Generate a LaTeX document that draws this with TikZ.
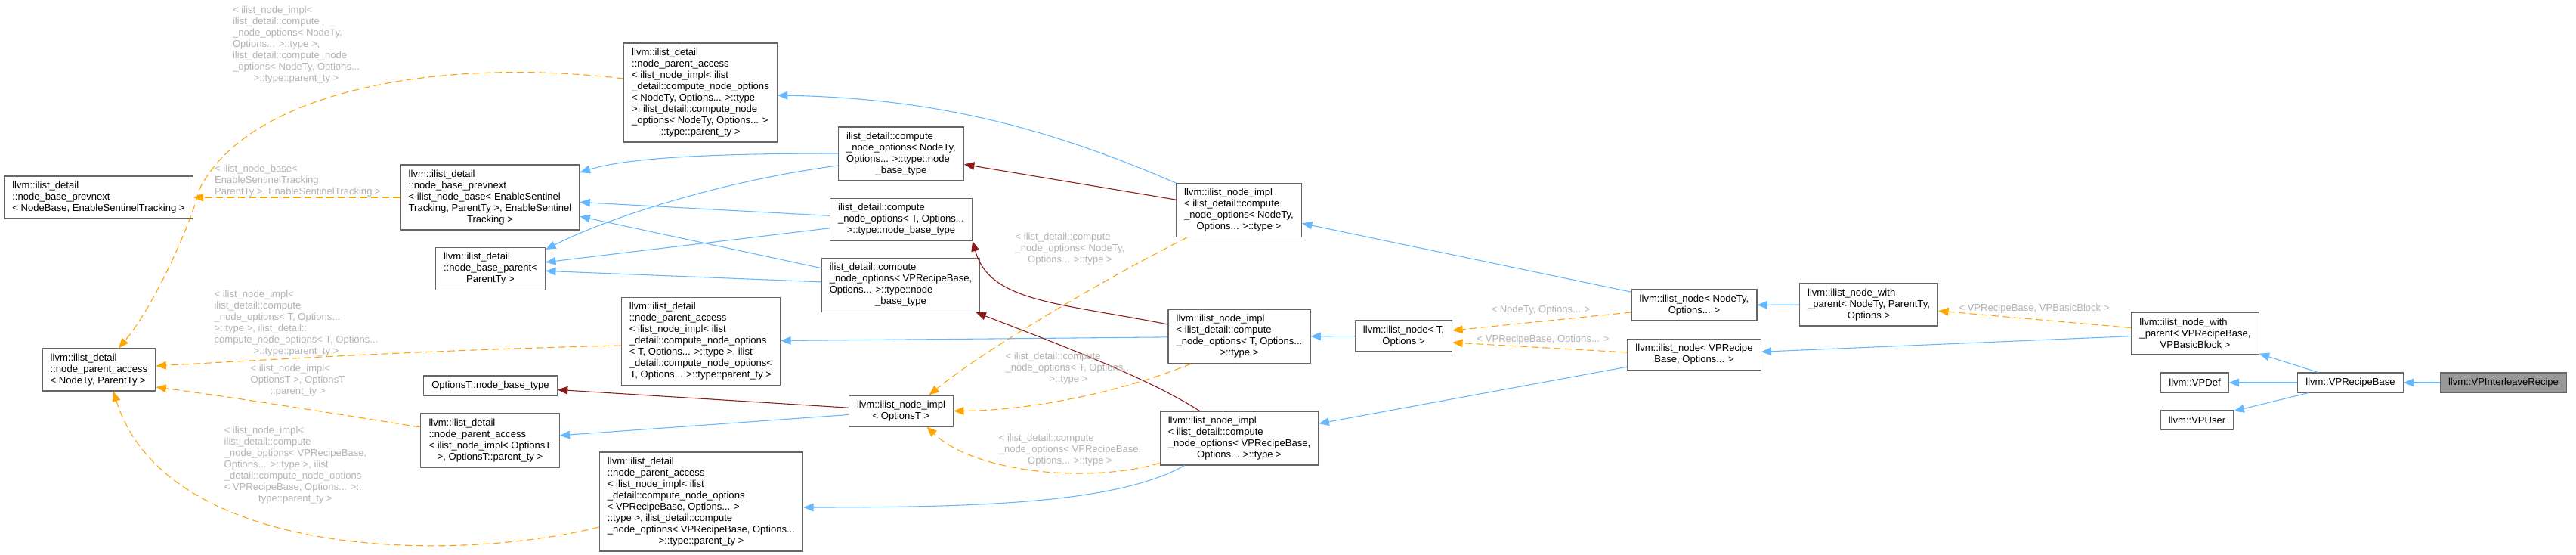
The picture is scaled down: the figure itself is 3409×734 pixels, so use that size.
\documentclass[tikz,border=0pt]{standalone}
\usepackage{fontspec}
\setmainfont{Liberation Sans}
\usepackage{tikz}
\usetikzlibrary{arrows.meta,calc}

\definecolor{dxborder}{HTML}{666666}
\definecolor{dxfocus}{HTML}{999999}
\definecolor{dxblue}{HTML}{63B8FF}
\definecolor{dxred}{HTML}{8B1A1A}
\definecolor{dxorange}{HTML}{FFA500}
\definecolor{dxlabel}{HTML}{B4B4B4}

% last line of a box is centred, the others flush left
\newcommand{\midline}[1]{\hfill#1\hfill\null}

\begin{document}
\begin{tikzpicture}[
    x=0.75pt, y=-0.75pt,
    cls/.style={draw=dxborder, fill=white, line width=0.8pt, align=left,
                font=\fontsize{9.8}{11.25}\selectfont, inner xsep=8pt, inner ysep=2pt},
    focus/.style={cls, fill=dxfocus},
    nlines/.style={minimum height={(11+15*#1)*0.75pt}},
    tlabel/.style={font=\fontsize{9.8}{11.25}\selectfont, text=dxlabel, align=left, inner sep=0pt},
    pub/.style={draw=dxblue, line width=0.8pt, -{Triangle[length=10pt, width=8pt]}},
    priv/.style={draw=dxred, line width=0.8pt, -{Triangle[length=10pt, width=8pt]}},
    tmpl/.style={draw=dxorange, line width=0.8pt, dash pattern=on 7pt off 4pt,
                 -{Triangle[length=10pt, width=8pt]}},
]

\useasboundingbox[fill=white] (0,0) rectangle (3409,734);

% Left column: base templates
\node[cls, nlines=3] (pbpnb) at (130.5,261)
    {llvm::ilist\_detail\\::node\_base\_prevnext\\< NodeBase, EnableSentinelTracking >};
\node[cls, nlines=3] (pa) at (131,489)
    {llvm::ilist\_detail\\::node\_parent\_access\\< NodeTy, ParentTy >};

% Instantiations of the base templates
\node[cls, nlines=5] (pbpib) at (648.5,261)
    {llvm::ilist\_detail\\::node\_base\_prevnext\\< ilist\_node\_base< EnableSentinel\\Tracking, ParentTy >, EnableSentinel\\\midline{Tracking >}};
\node[cls, nlines=3] (nbp) at (649,355.5)
    {llvm::ilist\_detail\\::node\_base\_parent<\\\midline{ParentTy >}};
\node[cls, nlines=8] (paNT) at (927,122.5)
    {llvm::ilist\_detail\\::node\_parent\_access\\< ilist\_node\_impl< ilist\\\_detail::compute\_node\_options\\< NodeTy, Options... >::type\\ >, ilist\_detail::compute\_node\\\_options< NodeTy, Options... >\\\midline{::type::parent\_ty >}};
\node[cls, nlines=7] (paT) at (927.5,451.5)
    {llvm::ilist\_detail\\::node\_parent\_access\\< ilist\_node\_impl< ilist\\\_detail::compute\_node\_options\\< T, Options... >::type >, ilist\\\_detail::compute\_node\_options<\\\midline{T, Options... >::type::parent\_ty >}};
\node[cls, nlines=1] (obt) at (649,510) {OptionsT::node\_base\_type};
\node[cls, nlines=4] (paO) at (648.5,582.5)
    {llvm::ilist\_detail\\::node\_parent\_access\\< ilist\_node\_impl< OptionsT\\\midline{>, OptionsT::parent\_ty >}};
\node[cls, nlines=8] (paV) at (928,663.5)
    {llvm::ilist\_detail\\::node\_parent\_access\\< ilist\_node\_impl< ilist\\\_detail::compute\_node\_options\\< VPRecipeBase, Options... >\\::type >, ilist\_detail::compute\\\_node\_options< VPRecipeBase, Options...\\\midline{>::type::parent\_ty >}};

% compute_node_options types
\node[cls, nlines=4] (cNT) at (1192.5,203.5)
    {ilist\_detail::compute\\\_node\_options< NodeTy,\\Options... >::type::node\\\midline{\_base\_type}};
\node[cls, nlines=3] (cT) at (1192.5,290.5)
    {ilist\_detail::compute\\\_node\_options< T, Options...\\\midline{>::type::node\_base\_type}};
\node[cls, nlines=4] (cV) at (1192,377)
    {ilist\_detail::compute\\\_node\_options< VPRecipeBase,\\Options... >::type::node\\\midline{\_base\_type}};
\node[cls, nlines=2] (iO) at (1192.5,543.5) {llvm::ilist\_node\_impl\\\midline{< OptionsT >}};

% ilist_node_impl instantiations
\node[cls, nlines=4] (iNT) at (1639.5,278)
    {llvm::ilist\_node\_impl\\< ilist\_detail::compute\\\_node\_options< NodeTy,\\\midline{Options... >::type >}};
\node[cls, nlines=4] (iT) at (1640,445)
    {llvm::ilist\_node\_impl\\< ilist\_detail::compute\\\_node\_options< T, Options...\\\midline{>::type >}};
\node[cls, nlines=4] (iV) at (1640,579.5)
    {llvm::ilist\_node\_impl\\< ilist\_detail::compute\\\_node\_options< VPRecipeBase,\\\midline{Options... >::type >}};

% ilist_node
\node[cls, nlines=2] (nT) at (1857.5,444.5) {llvm::ilist\_node< T,\\\midline{Options >}};
\node[cls, nlines=2] (nNT) at (2242,403.5) {llvm::ilist\_node< NodeTy,\\\midline{Options... >}};
\node[cls, nlines=2] (nV) at (2242,469) {llvm::ilist\_node< VPRecipe\\\midline{Base, Options... >}};
\node[cls, nlines=3] (wpT) at (2473,403)
    {llvm::ilist\_node\_with\\\_parent< NodeTy, ParentTy,\\\midline{Options >}};
\node[cls, nlines=3] (wpV) at (2905,441)
    {llvm::ilist\_node\_with\\\_parent< VPRecipeBase,\\\midline{VPBasicBlock >}};

% VPlan classes
\node[cls, nlines=1] (vpdef) at (2904.5,506) {llvm::VPDef};
\node[cls, nlines=1] (vpuser) at (2907.5,555.5) {llvm::VPUser};
\node[cls, nlines=1] (vprb) at (3110.5,506) {llvm::VPRecipeBase};
\node[focus, nlines=1] (vpir) at (3313,506) {llvm::VPInterleaveRecipe};

% Right part
\draw[pub] (vpir) -- (vprb);
\draw[pub] (vprb) -- (wpV);
\draw[pub] (vprb) -- (vpdef);
\draw[pub] (vprb) -- (vpuser);
\draw[tmpl] (wpV) -- (wpT);
\draw[pub] (wpV) -- (nV);
\draw[pub] (wpT) -- (nNT);
\draw[tmpl] ($(nNT.west)+(0,9.5)$) -- ($(nT.east)+(0,-7.5)$);
\draw[tmpl] ($(nV.west)+(0,-3)$) -- ($(nT.east)+(0,8.5)$);
\draw[pub] (nNT) -- (iNT);
\draw[pub] (nT) -- (iT);
\draw[pub] (nV) -- (iV);

% ilist_node_impl to its bases
\draw[tmpl] ($(iNT.south west)+(15,0)$) .. controls (1450,375) and (1300,465) .. ($(iO.north)+(37,0)$);
\draw[tmpl] ($(iT.south west)+(31,0)$) .. controls (1480,520) and (1360,543) .. (iO.east);
\draw[tmpl] ($(iV.west)+(0,33)$) .. controls (1440,640) and (1290,625) .. ($(iO.south)+(34,0)$);
\draw[priv] (iNT) -- (cNT);
\draw[pub] (iNT.north west) .. controls (1400,175) and (1250,130) .. ($(paNT.east)+(0,3.5)$);
\draw[priv] ($(iT.west)+(0,-16)$) .. controls (1400,400) and (1310,400) .. (cT.south east);
\draw[pub] (iT) -- (paT);
\draw[priv] ($(iV.north west)+(53,0)$) .. controls (1520,500) and (1400,455) .. ($(cV.south east)+(-6,0)$);
\draw[pub] ($(iV.south west)+(33,0)$) .. controls (1480,665) and (1300,671) .. ($(paV.east)+(0,7.5)$);
\draw[priv] (iO) -- (obt);
\draw[pub] (iO) -- (paO);

% node_base_type to the node bases
\draw[pub] ($(cNT.west)+(0,-0.5)$) .. controls (900,203) and (820,212) .. ($(pbpib.east)+(0,-33)$);
\draw[pub] ($(cNT.west)+(0,15.5)$) .. controls (950,240) and (800,290) .. ($(nbp.north east)+(0,3)$);
\draw[pub] (cT) -- (pbpib);
\draw[pub] (cT) -- (nbp);
\draw[pub] (cV) -- (pbpib);
\draw[pub] (cV) -- (nbp);

% Instantiations back to the left column
\draw[tmpl] (pbpib) -- (pbpnb);
\draw[tmpl] ($(paNT.west)+(0,-18.5)$) .. controls (580,75) and (330,120) .. (264,250)
    .. controls (250,305) and (200,410) .. ($(pa.north)+(26,0)$);
\draw[tmpl] ($(paT.west)+(0,5.5)$) .. controls (600,462) and (400,473) .. ($(pa.east)+(0,-5)$);
\draw[tmpl] ($(paO.west)+(0,-17.5)$) .. controls (430,545) and (320,527) .. ($(pa.east)+(0,23)$);
\draw[tmpl] ($(paV.west)+(0,33.5)$) .. controls (600,745) and (220,740) .. ($(pa.south)+(19,0)$);

% Edge labels
\node[tlabel] (l1) at (392,59)
    {< ilist\_node\_impl<\\ilist\_detail::compute\\\_node\_options< NodeTy,\\Options... >::type >,\\ilist\_detail::compute\_node\\\_options< NodeTy, Options...\\\midline{>::type::parent\_ty >}};
\node[tlabel] (l2) at (394,239)
    {< ilist\_node\_base<\\EnableSentinelTracking,\\ParentTy >, EnableSentinelTracking >};
\node[tlabel] (l3) at (392,427.5)
    {< ilist\_node\_impl<\\ilist\_detail::compute\\\_node\_options< T, Options...\\>::type >, ilist\_detail::\\compute\_node\_options< T, Options...\\\midline{>::type::parent\_ty >}};
\node[tlabel] (l4) at (394,503)
    {< ilist\_node\_impl<\\OptionsT >, OptionsT\\\midline{::parent\_ty >}};
\node[tlabel] (l5) at (391,615)
    {< ilist\_node\_impl<\\ilist\_detail::compute\\\_node\_options< VPRecipeBase,\\Options... >::type >, ilist\\\_detail::compute\_node\_options\\< VPRecipeBase, Options... >::\\\midline{type::parent\_ty >}};
\node[tlabel] (l6) at (1416,329)
    {< ilist\_detail::compute\\\_node\_options< NodeTy,\\\midline{Options... >::type >}};
\node[tlabel] (l7) at (1414,487)
    {< ilist\_detail::compute\\\_node\_options< T, Options...\\\midline{>::type >}};
\node[tlabel] (l8) at (1416,595)
    {< ilist\_detail::compute\\\_node\_options< VPRecipeBase,\\\midline{Options... >::type >}};
\node[tlabel] (l9) at (2039,410) {< NodeTy, Options... >};
\node[tlabel] (l10) at (2042,449) {< VPRecipeBase, Options... >};
\node[tlabel] (l11) at (2692,408) {< VPRecipeBase, VPBasicBlock >};

\end{tikzpicture}
\end{document}
